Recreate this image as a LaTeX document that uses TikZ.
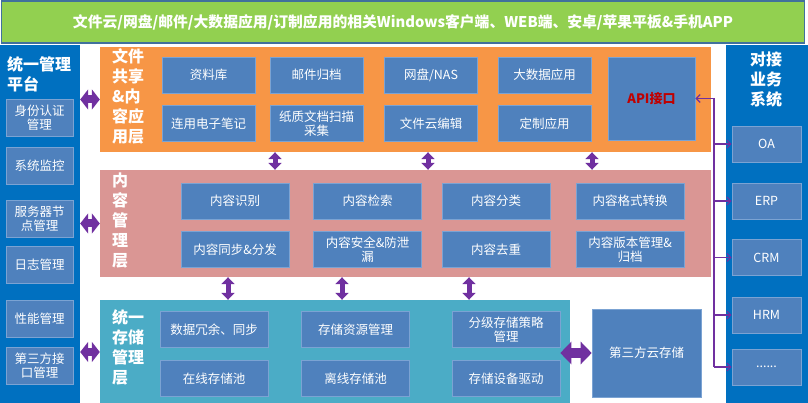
\documentclass[tikz,border=0pt]{standalone}
\usepackage{fontspec}
\setmainfont{Noto Sans CJK SC}
\usetikzlibrary{arrows.meta}

\definecolor{bannergreen}{HTML}{92D050}
\definecolor{bannerline}{HTML}{41719C}
\definecolor{panelblue}{HTML}{0070C0}
\definecolor{boxblue}{HTML}{4F81BD}
\definecolor{boxedge}{HTML}{7BA3D3}
\definecolor{apporange}{HTML}{F79646}
\definecolor{contentpink}{HTML}{DA9694}
\definecolor{storeteal}{HTML}{4BACC6}
\definecolor{linkpurple}{HTML}{7030A0}
\definecolor{apired}{HTML}{C00000}

\newcommand{\boxfont}{\fontsize{12.5}{14.5}\selectfont}
\newcommand{\titlefont}{\fontsize{16}{20}\selectfont\bfseries}

\begin{document}
\begin{tikzpicture}[x=1pt,y=-1pt,
    layer/.style={inner sep=0pt, draw=none},
    sub/.style={fill=boxblue, draw=boxedge, line width=0.6pt, text=white,
                font=\boxfont, align=center, inner sep=0pt},
    layertitle/.style={text=white, font=\titlefont, align=left, inner sep=0pt},
    hfat/.style={linkpurple, line width=8pt, {Triangle[length=8pt,width=20pt]}-{Triangle[length=8pt,width=20pt]}},
    vfat/.style={linkpurple, line width=5pt, {Triangle[length=7pt,width=13pt]}-{Triangle[length=7pt,width=13pt]}},
    cloudfat/.style={linkpurple, line width=10pt, {Triangle[length=11pt,width=22pt]}-{Triangle[length=11pt,width=22pt]}},
    bus/.style={linkpurple, line width=1.2pt},
    busarrow/.style={bus, -{Straight Barb[length=4pt,width=8pt]}}]
    \useasboundingbox (0,0) rectangle (808,403);

    % Top banner
    \node[fill=bannergreen, draw=bannerline, line width=1.5pt, inner sep=0pt,
          minimum width=803, minimum height=42, text=white,
          font=\fontsize{14.8}{18}\selectfont\bfseries] (banner) at (403,22)
        {文件云/网盘/邮件/大数据应用/订制应用的相关Windows客户端、WEB端、安卓/苹果平板\&手机APP};

    % Side panels
    \node[layer, fill=panelblue, minimum width=80, minimum height=358] (mgmt) at (40,224) {};
    \node[layertitle, anchor=north west] (mgmttitle) at (7,56) {统一管理\\平台};
    \node[layer, fill=panelblue, minimum width=82, minimum height=358] (biz) at (767,224) {};
    \node[layertitle, align=center] (biztitle) at (766,80) {对接\\业务\\系统};

    % Management panel items
    \node[sub, minimum width=67, minimum height=37] (auth) at (39.5,117.5) {身份认证\\管理};
    \node[sub, minimum width=67, minimum height=37] (monitor) at (39.5,165.5) {系统监控};
    \node[sub, minimum width=67, minimum height=37] (server) at (39.5,219) {服务器节\\点管理};
    \node[sub, minimum width=67, minimum height=37] (logs) at (39.5,265) {日志管理};
    \node[sub, minimum width=67, minimum height=37] (perf) at (39.5,318.5) {性能管理};
    \node[sub, minimum width=67, minimum height=37] (thirdif) at (39.5,365.5) {第三方接\\口管理};

    % Business systems
    \node[sub, minimum width=69, minimum height=36] (oa) at (766.5,144) {OA};
    \node[sub, minimum width=69, minimum height=36] (erp) at (766.5,201) {ERP};
    \node[sub, minimum width=69, minimum height=36] (crm) at (766.5,257.5) {CRM};
    \node[sub, minimum width=69, minimum height=36] (hrm) at (766.5,315) {HRM};
    \node[sub, minimum width=69, minimum height=36] (more) at (766.5,367) {......};

    % File sharing & content application layer
    \node[layer, fill=apporange, minimum width=611, minimum height=105] (app) at (405.5,99.5) {};
    \node[layertitle, anchor=north west] (apptitle) at (112,48) {文件\\共享\\\&内\\容应\\用层};
    \node[sub, minimum width=93, minimum height=36] (library) at (208.5,75) {资料库};
    \node[sub, minimum width=93, minimum height=36] (mail) at (316.5,75) {邮件归档};
    \node[sub, minimum width=93, minimum height=36] (nas) at (431,75) {网盘/NAS};
    \node[sub, minimum width=93, minimum height=36] (bigdata) at (544.5,75) {大数据应用};
    \node[sub, minimum width=93, minimum height=36] (notes) at (208.5,123.5) {连用电子笔记};
    \node[sub, minimum width=93, minimum height=36] (scan) at (316.5,123.5) {纸质文档扫描\\采集};
    \node[sub, minimum width=93, minimum height=36] (edit) at (431,123.5) {文件云编辑};
    \node[sub, minimum width=93, minimum height=36] (custom) at (544.5,123.5) {定制应用};
    \node[sub, minimum width=87, minimum height=83, text=apired,
          font=\fontsize{13}{15}\selectfont\bfseries] (api) at (651.5,98.5) {API接口};

    % Content management layer
    \node[layer, fill=contentpink, minimum width=611, minimum height=107] (content) at (405.5,223.5) {};
    \node[layertitle, anchor=north west] (contenttitle) at (112,173) {内\\容\\管\\理\\层};
    \node[sub, minimum width=108, minimum height=36] (recog) at (235,201) {内容识别};
    \node[sub, minimum width=108, minimum height=36] (search) at (367.5,201) {内容检索};
    \node[sub, minimum width=108, minimum height=36] (classify) at (496,201) {内容分类};
    \node[sub, minimum width=108, minimum height=36] (convert) at (630,201) {内容格式转换};
    \node[sub, minimum width=108, minimum height=36] (sync) at (235,249.5) {内容同步\&分发};
    \node[sub, minimum width=108, minimum height=36] (secure) at (367.5,249.5) {内容安全\&防泄\\漏};
    \node[sub, minimum width=108, minimum height=36] (dedup) at (496,249.5) {内容去重};
    \node[sub, minimum width=108, minimum height=36] (version) at (630,249.5) {内容版本管理\&\\归档};

    % Unified storage management layer
    \node[layer, fill=storeteal, minimum width=470, minimum height=104] (store) at (335,352) {};
    \node[layertitle, anchor=north west] (storetitle) at (112,309) {统一\\存储\\管理\\层};
    \node[sub, minimum width=108, minimum height=36] (redund) at (214,329.5) {数据冗余、同步};
    \node[sub, minimum width=108, minimum height=36] (resource) at (355.5,329.5) {存储资源管理};
    \node[sub, minimum width=108, minimum height=36] (tiered) at (506,329.5) {分级存储策略\\管理};
    \node[sub, minimum width=108, minimum height=36] (online) at (214,378.5) {在线存储池};
    \node[sub, minimum width=108, minimum height=36] (offline) at (355.5,378.5) {离线存储池};
    \node[sub, minimum width=108, minimum height=36] (driver) at (506,378.5) {存储设备驱动};
    \node[sub, minimum width=109, minimum height=88] (cloud) at (646.5,353) {第三方云存储};

    % Links from management panel
    \draw[hfat] (app.west -| mgmt.east) -- (app.west);
    \draw[hfat] (content.west -| mgmt.east) -- (content.west);
    \draw[hfat] (store.west -| mgmt.east) -- (store.west);

    % Links between layers
    \foreach \xpos in {275,428,592}
        \draw[vfat] (\xpos,0 |- app.south) -- (\xpos,0 |- content.north);
    \foreach \xpos in {228,342,469}
        \draw[vfat] (\xpos,0 |- content.south) -- (\xpos,0 |- store.north);
    \draw[cloudfat] (cloud.west -| driver.east) -- (cloud.west);

    % API bus to business systems
    \coordinate (busT) at (714,0 |- api.east);
    \coordinate (busB) at (714,0 |- more.west);
    \draw[bus] (busT) -- (busB);
    \draw[busarrow] (busT) -- (api.east);
    \foreach \sys in {oa,erp,crm,hrm,more}
        \draw[busarrow] (\sys.west -| busT) -- (\sys.west);
\end{tikzpicture}
\end{document}
